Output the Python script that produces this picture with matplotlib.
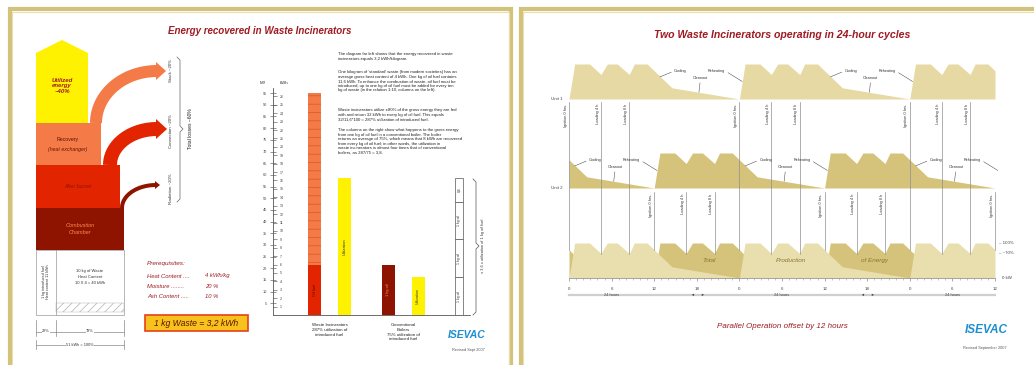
import textwrap
import numpy as np
import matplotlib
matplotlib.use("Agg")
import matplotlib.pyplot as plt
from matplotlib.patches import Polygon, Rectangle

plt.rcParams['font.family'] = ['Liberation Sans', 'DejaVu Sans']
plt.rcParams['hatch.linewidth'] = 0.5

# ------------------------------------------------------------------ data
left_title = "Energy recovered in Waste Incinerators"
right_title = "Two Waste Incinerators operating in 24-hour cycles"

utilized_label = "Utilized\nenergy\n~40%"
loss_labels = ["Stack ~20%", "Convection ~20%", "Radiation ~20%"]
total_loss_label = "Total losses ~60%"
prereq_names = ["Heat Content", "Moisture", "Ash Content"]
prereq_values = ["4 kWh/kg", "20 %", "10 %"]
result_label = "1 kg Waste = 3,2 kWh"
share_labels = ["22%", "78%"]
total_label = "51 kWh = 100%"

paragraphs = [
    "The diagram far left shows that the energy recovered in waste incinerators equals 3,2 kWh/kilogram.",
    "One kilogram of 'standard' waste (from modern societies) has an average gross heat content of 4 kWh. One kg of oil fuel contains 11,6 kWh. To enhance the combustion of waste, oil fuel must be introduced, up to one kg of oil fuel must be added for every ten kg of waste (in the relation 1:10, columns on the left).",
    "Waste incinerators utilize ±80% of the gross energy they are fed with and return 32 kWh to every kg of oil fuel. This equals 32/11,6*100 = 287% utilization of introduced fuel.",
    "The columns on the right show what happens to the gross energy from one kg of oil fuel in a conventional boiler. The boiler returns an average of 75%, which means that 8 kWh are recovered from every kg of oil fuel; in other words, the utilization in waste incinerators is almost four times that of conventional boilers, as 287/75 = 3,8.",
]

# bar chart (kWh)
bar_groups = ["Waste Incinerators\n287% utilization of\nintroduced fuel",
              "Conventional\nBoilers\n75% utilization of\nintroduced fuel"]
inc_oil_kwh = 6.0
inc_waste_kwh = 20.4
inc_util_kwh = 16.3
conv_oil_kwh = 6.0
conv_util_kwh = 4.5
compare_cells_kwh = [4.5, 4.5, 4.5, 2.8]
compare_cell_labels = ["1 kg oil", "1 kg oil", "1 kg oil", "0,6"]
mj_ticks = [5, 10, 15, 20, 25, 30, 35, 40, 45, 50, 55, 60, 65, 70, 75, 80, 85, 90, 95]
kwh_ticks = [1, 2, 3, 4, 5, 6, 7, 8, 9, 10, 11, 12, 13, 14, 15, 16, 17, 18, 19,
             20, 21, 22, 23, 24, 25, 26]

# 24-hour operating cycle of one incinerator (hours, % of output)
cycle_hours = [0, 0.8, 2.9, 4.5, 5.4, 6.8, 8.5, 9.2, 11.0, 14.5, 24]
cycle_level = [0, 100, 100, 70, 100, 100, 70, 100, 100, 32, 0]
event_hours = [0, 4.5, 8.5]
event_labels = ["Ignition 0 hrs.", "Loading 4 h", "Loading 8 h"]
notes = ["Cooling", "Cleanout", "Reheating"]
note_label_pos = [(15.7, 80), (18.5, 60), (20.8, 80)]
note_point_pos = [(12.8, 63), (18.3, 19), (24.4, 50)]
plant_offsets = [0, 12]
span_hours = 60
hour_ticks = [0, 6, 12, 18, 24, 30, 36, 42, 48, 54, 60]
hour_tick_labels = ["0", "6", "12", "18", "0", "6", "12", "18", "0", "6", "12"]
row_labels = ["Unit 1", "Unit 2"]
level_labels = ["100%", "~70%"]
level_values = [100, 72]

# ------------------------------------------------------------------ style
C_Y = '#fff200'
C_OR = '#f47b48'
C_RED = '#e32400'
C_DRED = '#8e1400'
C_TITLE = '#9e1b22'
C_GOLD = '#d3c27a'
C_GOLD2 = '#e9deb0'
C_LIGHT = '#e6d9a4'
C_DARK = '#d6c37b'

W, H = 1034, 365
fig = plt.figure(figsize=(W / 100, H / 100), dpi=100)
bg = fig.add_axes([0, 0, 1, 1])
bg.set_xlim(0, W)
bg.set_ylim(H, 0)
bg.axis('off')


def px_axes(x0, y0, x1, y1):
    ax = fig.add_axes([x0 / W, 1 - y1 / H, (x1 - x0) / W, (y1 - y0) / H])
    ax.patch.set_alpha(0)
    return ax


# slide borders
bg.plot([9.5, 9.5, 511, 511], [H + 5, 9, 9, H + 5], color=C_GOLD, lw=3, solid_joinstyle='miter')
bg.plot([12, 12, 508.5, 508.5], [H + 5, 11.5, 11.5, H + 5], color=C_GOLD2, lw=0.8)
bg.plot([520.5, 520.5, W + 5], [H + 5, 9, 9], color=C_GOLD, lw=3, solid_joinstyle='miter')
bg.plot([523, 523, W + 5], [H + 5, 11.5, 11.5], color=C_GOLD2, lw=0.8)

# ================================================================ LEFT SLIDE
bg.text(260, 31, left_title, ha='center', va='center', fontsize=7, color=C_TITLE,
        style='italic', weight='bold')

# energy flow blocks
bg.add_patch(Polygon([(36, 123), (36, 53), (62, 40), (88, 53), (88, 123)], closed=True,
                     fc=C_Y, ec='none'))
bg.add_patch(Rectangle((36, 123), 65, 42, fc=C_OR, ec='none'))
bg.add_patch(Rectangle((36, 165), 84, 43, fc=C_RED, ec='none'))
bg.add_patch(Rectangle((36, 208), 88, 42, fc=C_DRED, ec='none'))
bg.text(62, 86, utilized_label, ha='center', va='center', fontsize=4.3, color=C_TITLE,
        style='italic', weight='bold', linespacing=1.2)
bg.text(68, 140, "Recovery", ha='center', va='center', fontsize=3.8, color='#5a1000')
bg.text(68, 150, "(heat exchanger)", ha='center', va='center', fontsize=3.8, color='#6a1500',
        style='italic')
bg.text(78, 187, "After burner", ha='center', va='center', fontsize=3.8, color='#8e1400',
        style='italic')
bg.text(80, 229, "Combustion\nChamber", ha='center', va='center', fontsize=4, color='#ff8a50',
        style='italic', linespacing=1.3)


def quarter(cx, cy, rx, ry, n=40):
    th = np.linspace(0, np.pi / 2, n)
    return cx - rx * np.cos(th), cy - ry * np.sin(th)


for (cx, cy, rx, ry, wpx, col, hw) in [(157, 123, 61, 52, 12, C_OR, 9),
                                        (157, 165, 47, 36, 14, C_RED, 10),
                                        (156, 208, 34, 23, 4, C_DRED, 4)]:
    xs, ys = quarter(cx, cy, rx, ry)
    bg.plot(xs, ys, color=col, lw=wpx * 0.72, solid_capstyle='butt')
    ey = cy - ry
    bg.add_patch(Polygon([(cx - 1, ey - hw), (cx + hw, ey), (cx - 1, ey + hw)], closed=True,
                         fc=col, ec='none'))

for lab, yc in zip(loss_labels, [70, 131, 189]):
    bg.text(171, yc, lab, rotation=90, ha='center', va='center', fontsize=3.2, color='#333')
bg.plot([177, 180, 180, 183, 180, 180, 177], [57, 60, 126, 129, 132, 199, 202],
        color='#666', lw=0.5)
bg.text(191, 129, total_loss_label, rotation=90, ha='center', va='center', fontsize=3.6,
        color='#222')

# fuel box
bg.add_patch(Rectangle((36, 250), 88, 65, fc='white', ec='#9a9a9a', lw=0.5))
bg.plot([56, 56], [250, 315], color='#9a9a9a', lw=0.5)
bg.add_patch(Rectangle((56, 303), 68, 9, fc='white', ec='#b0b0b0', lw=0.3, hatch='////'))
bg.text(46, 282, "1 kg introduced fuel\nHeat content 11 kWh", rotation=90, ha='center',
        va='center', fontsize=2.7, color='#333', linespacing=1.3)
bg.text(90, 277, "10 kg of Waste\nHeat Content\n10 X 4 = 40 kWh", ha='center', va='center',
        fontsize=3, color='#333', linespacing=1.6)
# dimension lines
for xx in [36, 56, 124]:
    bg.plot([xx, xx], [320, 336], color='#888', lw=0.5)
bg.plot([36, 124], [332, 332], color='#888', lw=0.5)
bg.text(46, 331, share_labels[0], ha='center', va='center', fontsize=2.8, color='#333',
        bbox=dict(fc='white', ec='none', pad=0.2))
bg.text(90, 331, share_labels[1], ha='center', va='center', fontsize=2.8, color='#333',
        bbox=dict(fc='white', ec='none', pad=0.2))
for xx in [36, 124]:
    bg.plot([xx, xx], [340, 349], color='#888', lw=0.5)
bg.plot([36, 124], [345, 345], color='#888', lw=0.5)
bg.text(80, 344.5, total_label, ha='center', va='center', fontsize=2.8, color='#333',
        bbox=dict(fc='white', ec='none', pad=0.2))

# prerequisites
bg.text(147, 264, "Prerequisites:", ha='left', va='center', fontsize=4.6, color=C_TITLE,
        style='italic')
for i, (nm, val) in enumerate(zip(prereq_names, prereq_values)):
    yy = 276 + i * 10.5
    bg.text(147, yy, nm + " " + "." * (16 - len(nm)), ha='left', va='center', fontsize=4.2,
            color=C_TITLE, style='italic')
    bg.text(205, yy, val, ha='left', va='center', fontsize=4.2, color=C_TITLE, style='italic')
bg.add_patch(Rectangle((145, 315), 103, 16, fc='#f8c21c', ec='#e8401a', lw=1.2))
bg.text(196.5, 323.5, result_label, ha='center', va='center', fontsize=6.2, color='#5a1500',
        style='italic')

# explanatory text
for p, yy in zip(paragraphs, [52, 70, 108, 128]):
    bg.text(338, yy, textwrap.fill(p, 64), ha='left', va='top', fontsize=3.05, color='#222',
            linespacing=1.18)

# bar chart
ax_b = px_axes(273, 88, 470, 315)
UNIT = 30.0
ax_b.set_xlim(-(314.5 - 273) / UNIT, (470 - 314.5) / UNIT)
ax_b.set_ylim(0, 27)
bw = 13 / UNIT
x_inc, x_inc_u, x_conv, x_conv_u = 0, 1, 2.45, 3.45
ax_b.bar(x_inc, inc_oil_kwh, width=bw, color=C_RED, lw=0)
ax_b.bar(x_inc, inc_waste_kwh, bottom=inc_oil_kwh, width=bw, color=C_OR, edgecolor='#cf5a2a',
         lw=0, hatch='--')
ax_b.bar(x_inc_u, inc_util_kwh, width=bw, color=C_Y, lw=0)
ax_b.bar(x_conv, conv_oil_kwh, width=bw, color=C_DRED, lw=0)
ax_b.bar(x_conv_u, conv_util_kwh, width=bw, color=C_Y, lw=0)
ax_b.text(x_inc, inc_oil_kwh / 2, "Oil fuel", rotation=90, ha='center', va='center',
          fontsize=2.8, color='#5a0a00')
ax_b.text(x_inc_u, inc_util_kwh / 2, "Utilization", rotation=90, ha='center', va='center',
          fontsize=2.8, color='#333')
ax_b.text(x_conv, conv_oil_kwh / 2, "1 kg oil", rotation=90, ha='center', va='center',
          fontsize=2.8, color='#ff9060')
ax_b.text(x_conv_u, conv_util_kwh / 2, "Utilization", rotation=90, ha='center', va='center',
          fontsize=2.6, color='#333')
x_cell = (459 - 314.5) / UNIT
bottom = 0
for val, lab in zip(compare_cells_kwh, compare_cell_labels):
    ax_b.bar(x_cell, val, bottom=bottom, width=8 / UNIT, fc='white', ec='#555', lw=0.5)
    ax_b.text(x_cell, bottom + val / 2, lab, rotation=90, ha='center', va='center',
              fontsize=2.5, color='#333')
    bottom += val
ax_b.spines[['top', 'right']].set_visible(False)
ax_b.spines['left'].set_linewidth(0.6)
ax_b.spines['bottom'].set_linewidth(0.6)
ax_b.spines['left'].set_color('#555')
ax_b.spines['bottom'].set_color('#555')
ax_b.set_yticks([m / 3.6 for m in mj_ticks], [str(m) for m in mj_ticks])
ax_b.tick_params(axis='y', direction='inout', length=4, width=0.4, labelsize=2.8, pad=2,
                 colors='#444')
ax_b.set_xticks([0.5, 2.95], bar_groups)
ax_b.tick_params(axis='x', length=0, labelsize=3.2, pad=6, labelcolor='#222')
ax_k = ax_b.twinx()
ax_k.set_ylim(0, 27)
ax_k.spines[['top', 'left', 'bottom']].set_visible(False)
ax_k.spines['right'].set_position(('axes', 0))
ax_k.spines['right'].set_visible(False)
ax_k.set_yticks(kwh_ticks, [str(k) for k in kwh_ticks])
ax_k.tick_params(axis='y', direction='out', length=3, width=0.4, labelsize=2.6, pad=2,
                 colors='#444')
bg.text(263, 83, "MJ", ha='center', va='center', fontsize=3.2, color='#333')
bg.text(284, 83, "kWh", ha='center', va='center', fontsize=3.2, color='#333')
bg.plot([473, 476, 476, 479, 476, 476, 473], [179, 182, 243, 246, 249, 312, 315],
        color='#555', lw=0.5)
bg.text(483, 246, "≈ 3,6 x utilization of 1 kg oil fuel", rotation=90, ha='center',
        va='center', fontsize=2.8, color='#333')

bg.text(467, 335, "ISEVAC", ha='center', va='center', fontsize=7.5, color='#1c8fd0',
        weight='bold', style='italic')
bg.text(468, 350, "Revised Sept 2007", ha='center', va='center', fontsize=2.8, color='#555')

# ================================================================ RIGHT SLIDE
bg.text(782, 35, right_title, ha='center', va='center', fontsize=7.6, color=C_TITLE,
        style='italic', weight='bold')

PXH = (995 - 569) / span_hours
PXL = 0.35


def wave_y(px):
    return (278 - px) / PXL


ax_w = px_axes(530, 45, 1034, 305)
ax_w.set_xlim((530 - 569) / PXH, (1034 - 569) / PXH)
ax_w.set_ylim(wave_y(305), wave_y(45))
row_base = [wave_y(99), wave_y(188)]


def plant_profile(first_start):
    starts = [first_start + 24 * k for k in range(4)]
    t = np.concatenate([s + np.array(cycle_hours, float) for s in starts])
    y = np.tile(np.array(cycle_level, float), len(starts))
    inside = (t > 0) & (t < span_hours)
    t_in = np.concatenate([[0], t[inside], [span_hours]])
    y_in = np.concatenate([[np.interp(0, t, y)], y[inside], [np.interp(span_hours, t, y)]])
    return t_in, y_in


profiles = [plant_profile(off - 24 if off > 0 else off) for off in plant_offsets]
(t1, y1), (t2, y2) = profiles
ax_w.fill_between(t1, row_base[0], row_base[0] + y1, color=C_LIGHT, lw=0)
ax_w.fill_between(t2, row_base[1], row_base[1] + y2, color=C_DARK, lw=0)
ax_w.fill_between(t2, 0, y2, color=C_DARK, lw=0)
ax_w.fill_between(t1, 0, y1, color='#e9dead', lw=0)

# event lines
line_top_px = [102, 192]
for p, off in enumerate(plant_offsets):
    for k in range(-1, 3):
        for e, lab in zip(event_hours, event_labels):
            t = off + 24 * k + e
            if t < 0 or t > span_hours:
                continue
            bot = max(np.interp(t, t1, y1), np.interp(t, t2, y2))
            top = wave_y(line_top_px[p])
            ax_w.plot([t, t], [bot, top], color='#8e8e8e', lw=0.5, zorder=3)
            ax_w.text(t - 0.2, wave_y(line_top_px[p] + 1.5), lab, rotation=90, ha='right',
                      va='bottom', rotation_mode='anchor', fontsize=2.8, color='#333')

# notes
for p, off in enumerate(plant_offsets):
    for k in range(-1, 3):
        s = off + 24 * k
        for nt, (lx, ly), (qx, qy) in zip(notes, note_label_pos, note_point_pos):
            if s + lx < 0 or s + lx > span_hours - 2:
                continue
            rel = {"Cooling": (0, 0.5), "Cleanout": (0.5, 0), "Reheating": (1, 0.5)}[nt]
            ax_w.annotate(nt, xy=(s + qx, row_base[p] + qy), xytext=(s + lx, row_base[p] + ly),
                          ha='center', va='center', fontsize=2.7, color='#333',
                          arrowprops=dict(arrowstyle='-', lw=0.4, color='#555',
                                          relpos=rel, shrinkA=0, shrinkB=0))

# axis
ax_w.spines[['top', 'left', 'right']].set_visible(False)
ax_w.spines['bottom'].set_position(('data', 0))
ax_w.spines['bottom'].set_bounds(0, span_hours)
ax_w.spines['bottom'].set_color('#9a9a9a')
ax_w.spines['bottom'].set_linewidth(0.6)
ax_w.set_yticks([])
ax_w.set_xticks(hour_ticks, hour_tick_labels)
ax_w.set_xticks(np.arange(0, span_hours + 1, 1), minor=True)
ax_w.tick_params(axis='x', which='major', length=2.5, width=0.5, color='#888', labelsize=3.2,
                 pad=4, labelcolor='#444')
ax_w.tick_params(axis='x', which='minor', length=1.3, width=0.4, color='#999')

yl = wave_y(295)
ax_w.plot([0, span_hours], [yl, yl], color='#cfcfcf', lw=1.6)
for tc in [6, 30, 54]:
    ax_w.text(tc, yl, "24 hours", ha='center', va='center', fontsize=2.8, color='#444')
for tc in [18, 42]:
    ax_w.text(tc - 0.7, yl, "◄", ha='center', va='center', fontsize=2.8, color='#444')
    ax_w.text(tc + 0.7, yl, "►", ha='center', va='center', fontsize=2.8, color='#444')

for lab, base in zip(row_labels, row_base):
    ax_w.text(-0.9, base, lab, ha='right', va='center', fontsize=3.2, color='#444')
for lab, lv in zip(level_labels, level_values):
    ax_w.text(60.6, lv, "– " + lab, ha='left', va='center', fontsize=3.2, color='#444')
ax_w.text(61.0, 0, "0 kW", ha='left', va='center', fontsize=3.2, color='#444')
for word, tc in zip(["Total", "Production", "of Energy"], [19.8, 31.3, 43.0]):
    ax_w.text(tc, 51, word, ha='center', va='center', fontsize=4.6, color='#8a7434',
              style='italic')

bg.text(782, 327, "Parallel Operation offset by 12 hours", ha='center', va='center',
        fontsize=5.8, color=C_TITLE, style='italic')
bg.text(986, 330, "ISEVAC", ha='center', va='center', fontsize=8.5, color='#1c8fd0',
        weight='bold', style='italic')
bg.text(985, 348, "Revised September 2007", ha='center', va='center', fontsize=2.8,
        color='#555')

fig.savefig("out.png", dpi=100)
